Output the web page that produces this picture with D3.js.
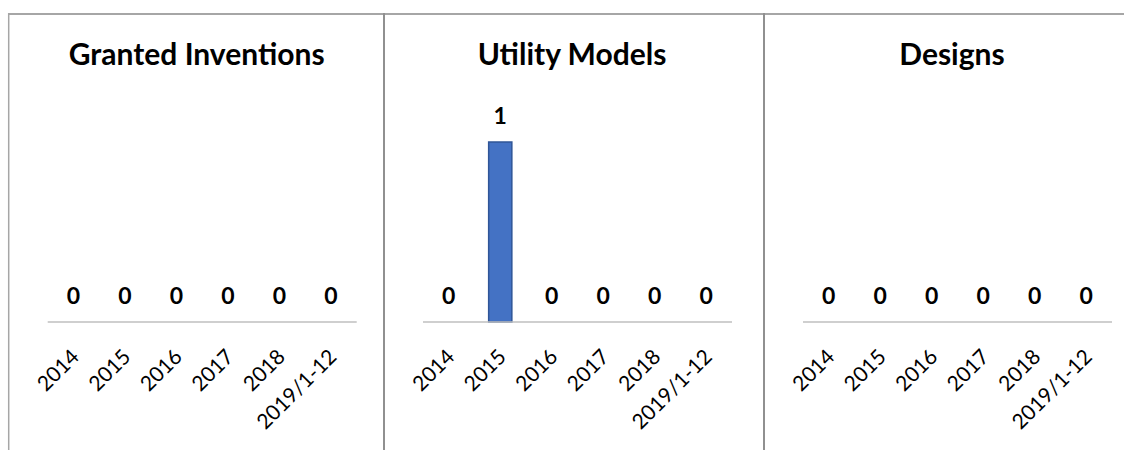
<!DOCTYPE html>
<html>
<head>
<meta charset="utf-8">
<script src="https://cdn.jsdelivr.net/npm/d3@7"></script>
<style>
  html, body { margin: 0; padding: 0; background: #fff; }
  svg { display: block; }
  text { font-family: Lato, "Open Sans", sans-serif; fill: #000; }
</style>
</head>
<body>
<svg id="chart" width="1124" height="450"></svg>
<script>
const categories = ["2014", "2015", "2016", "2017", "2018", "2019/1-12"];
const panelTitles = ["Granted Inventions", "Utility Models", "Designs"];
const grantedInventions = [0, 0, 0, 0, 0, 0];
const utilityModels = [0, 1, 0, 0, 0, 0];
const designs = [0, 0, 0, 0, 0, 0];

const seriesList = [grantedInventions, utilityModels, designs];

const svg = d3.select("#chart");
const W = 1124, H = 450;
const panelLefts = [8.7, 384, 764];
const panelWidth = 380;
const borderColor = "#a6a6a6";

// frame lines
svg.append("line").attr("x1", 8.7).attr("x2", W).attr("y1", 14).attr("y2", 14)
  .attr("stroke", borderColor).attr("stroke-width", 1.8);
panelLefts.forEach((px, i) => {
  svg.append("line").attr("x1", px).attr("x2", px).attr("y1", 13).attr("y2", H)
    .attr("stroke", i === 0 ? borderColor : "#909090").attr("stroke-width", i === 0 ? 1.5 : 2);
});

const y = d3.scaleLinear().domain([0, 1.25]).range([322, 97]);

seriesList.forEach((values, i) => {
  const px = panelLefts[i];
  const g = svg.append("g");
  const x = d3.scaleBand().domain(categories)
    .range([px + 39, px + 348]).paddingInner(0.55).paddingOuter(0.275);

  // title
  g.append("text")
    .attr("x", px + panelWidth / 2 - 2)
    .attr("y", 65)
    .attr("text-anchor", "middle")
    .style("font-weight", "bold")
    .style("font-size", "30px")
    .text(panelTitles[i]);

  // bars
  g.selectAll("rect.bar").data(values.map((v, k) => ({ c: categories[k], v })).filter(d => d.v > 0))
    .enter().append("rect")
    .attr("class", "bar")
    .attr("x", d => x(d.c))
    .attr("width", x.bandwidth())
    .attr("y", d => y(d.v))
    .attr("height", d => y(0) - y(d.v))
    .attr("fill", "#4472C4")
    .attr("stroke", "#2F5597")
    .attr("stroke-width", 1.5);

  // axis
  const axis = d3.axisBottom(x).tickSize(0).tickPadding(0).tickFormat("");
  const ag = g.append("g").attr("transform", `translate(0,${y(0)})`).call(axis);
  ag.select(".domain").attr("stroke", "#bfbfbf").attr("stroke-width", 1.5)
    .attr("d", `M${px + 39},0H${px + 348}`);

  // tick labels
  g.selectAll("text.tick-label").data(categories).enter().append("text")
    .attr("class", "tick-label")
    .attr("text-anchor", "end")
    .attr("dominant-baseline", "central")
    .attr("transform", d => `translate(${x(d) + x.bandwidth() / 2 + 1},${y(0) + 30}) rotate(-45)`)
    .style("font-size", "21px")
    .text(d => d);

  // value labels
  g.selectAll("text.value-label").data(values.map((v, k) => ({ c: categories[k], v })))
    .enter().append("text")
    .attr("class", "value-label")
    .attr("x", d => x(d.c) + x.bandwidth() / 2)
    .attr("y", d => y(d.v) - 18)
    .attr("text-anchor", "middle")
    .style("font-weight", "bold")
    .style("font-size", "23px")
    .text(d => d.v);
});
</script>
</body>
</html>
